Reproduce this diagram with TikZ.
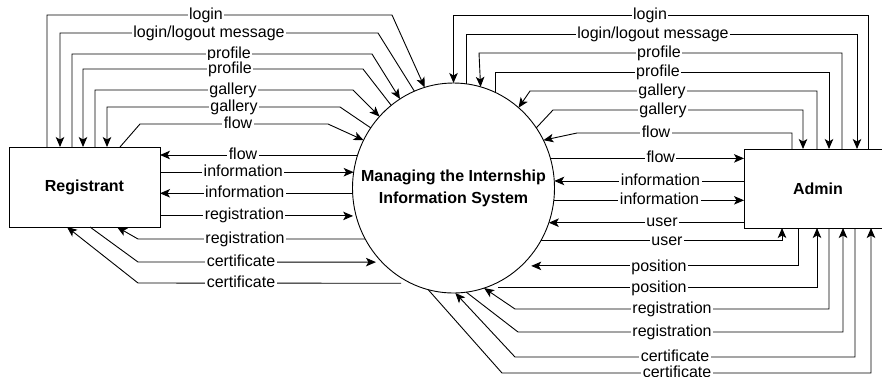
\documentclass[tikz,border=0pt]{standalone}
\usepackage{fontspec}
\setmainfont{Liberation Sans}
\usepackage{tikz}
\usetikzlibrary{arrows.meta, calc, shapes.geometric}

\begin{document}
\begin{tikzpicture}[x=1pt, y=-1pt, line width=0.9pt,
    >={Stealth[length=10pt, width=8.5pt, inset=2.5pt]},
    lbl/.style={fill=white, inner sep=1.5pt, text height=11.5pt, text depth=3.4pt,
        font=\fontsize{16}{18}\selectfont},
    entity/.style={draw, rectangle, inner sep=0pt, outer sep=0pt,
        font=\bfseries\fontsize{16}{19}\selectfont}]
    \clip (0,0) rectangle (882,376);

    % Entities and process
    \node (reg) at (84.5,187) [entity, minimum width=151pt, minimum height=80pt] {Registrant};
    \node (adm) at (818,188.5) [entity, minimum width=148pt, minimum height=79pt] {Admin};
    \node (sys) at (453.5,188) [draw, ellipse, minimum width=202pt, minimum height=210pt,
        inner xsep=-40pt, inner ysep=0pt, outer sep=0pt, align=center,
        font=\bfseries\fontsize{16}{22}\selectfont] {Managing the Internship\\Information System};

    % Registrant, upper flows
    \draw [->] ($(reg.north west)+(38,0)$) |- (392,15) -- (sys.106.2) node [lbl] at (206,15) {login};
    \draw [->] (sys.112.5) -- (378,33) -| ($(reg.north west)+(51,0)$) node [lbl] at (209,33) {login/logout message};
    \draw [->] ($(reg.north west)+(63,0)$) |- (372,54) -- (sys.121.4) node [lbl] at (229,54) {profile};
    \draw [->] (sys.127.7) -- (363,69) -| ($(reg.north west)+(74,0)$) node [lbl] at (230,69) {profile};
    \draw [->] ($(reg.north west)+(86,0)$) |- (353,90) -- (sys.136) node [lbl] at (233,90) {gallery};
    \draw [->] (sys.144.9) -- (340,107) -| ($(reg.north west)+(98,0)$) node [lbl] at (234,107) {gallery};
    \draw [->] ($(reg.north west)+(111,0)$) -- (140,124) -- (328,124) -- (sys.152.3) node [lbl] at (238,124) {flow};

    % Registrant, middle flows
    \draw [->] (sys.161.6) -- node [lbl, pos=0.58] {flow} (sys.161.6 -| reg.east);
    \draw [->] (reg.east |- sys.171.5) -- node [lbl, pos=0.43] {information} (sys.171.5);
    \draw [->] (sys.-177.1) -- node [lbl, pos=0.56] {information} (sys.-177.1 -| reg.east);
    \draw [->, shorten >=3pt] (reg.east |- sys.196.05) -- node [lbl, pos=0.43] {registration} (sys.196.05);

    % Registrant, lower flows
    \draw [->] (sys.210) -- (138,239) -- ($(reg.south west)+(108,0)$) node [lbl] at (245,239) {registration};
    \draw [->, shorten >=6pt] ($(reg.south west)+(81,0)$) -- (138,262) -- (sys.-134.1) node [lbl] at (241,262) {certificate};
    \draw [->, shorten <=10pt] (sys.-114.4) -- (138,283) -- ($(reg.south west)+(58,0)$) node [lbl] at (241,283) {certificate};

    % Admin, upper flows
    \draw [->] ($(adm.north west)+(124,0)$) |- (453.5,15) -- (sys.north) node [lbl] at (650,15) {login};
    \draw [->] (sys.83.2) |- (857,34) -- ($(adm.north west)+(113,0)$) node [lbl] at (653,34) {login/logout message};
    \draw [->] ($(adm.north west)+(98,0)$) |- (479,53) -- (sys.75.9) node [lbl] at (659,53) {profile};
    \draw [->] (sys.66.6) |- (829,72) -- ($(adm.north west)+(85,0)$) node [lbl] at (658,72) {profile};
    \draw [->] ($(adm.north west)+(73,0)$) |- (530,91) -- (sys.51.5) node [lbl] at (662,91) {gallery};
    \draw [->] (sys.36.7) -- (553,110) -| ($(adm.north west)+(59,0)$) node [lbl] at (663,110) {gallery};
    \draw [->] ($(adm.north west)+(48,0)$) |- (577,133) -- (sys.28.7) node [lbl] at (656,133) {flow};

    % Admin, middle flows
    \draw [->] (sys.17.2) -- node [lbl, pos=0.57] {flow} (sys.17.2 -| adm.west);
    \draw [->] (adm.west |- sys.4.5) -- node [lbl, pos=0.44] {information} (sys.4.5);
    \draw [->] (sys.-7.4) -- node [lbl, pos=0.556] {information} (sys.-7.4 -| adm.west);
    \draw [->] (adm.west |- sys.-20.2) -- node [lbl, pos=0.42] {user} (sys.-20.2);

    % Admin, lower flows
    \draw [->] (sys.-31.3) -| ($(adm.south west)+(38,0)$) node [lbl] at (667,241) {user};
    \draw [->, shorten >=10pt] ($(adm.south west)+(54,0)$) |- (sys.-49.9) node [lbl] at (659,267) {position};
    \draw [->, shorten <=12pt] (sys.-72.9) -| ($(adm.south west)+(73,0)$) node [lbl] at (659,288) {position};
    \draw [->] ($(adm.south west)+(85,0)$) |- (515,309) -- (sys.-73.3) node [lbl] at (672,309) {registration};
    \draw [->] (sys.-83.7) -- (518,332) -| ($(adm.south west)+(99,0)$) node [lbl] at (672,332) {registration};
    \draw [->] ($(adm.south west)+(111,0)$) |- (515,357) -- (sys.-89) node [lbl] at (675,357) {certificate};
    \draw [->] (sys.-104.7) -- (502,373) -| ($(adm.south west)+(127,0)$) node [lbl] at (677,373) {certificate};
\end{tikzpicture}
\end{document}
